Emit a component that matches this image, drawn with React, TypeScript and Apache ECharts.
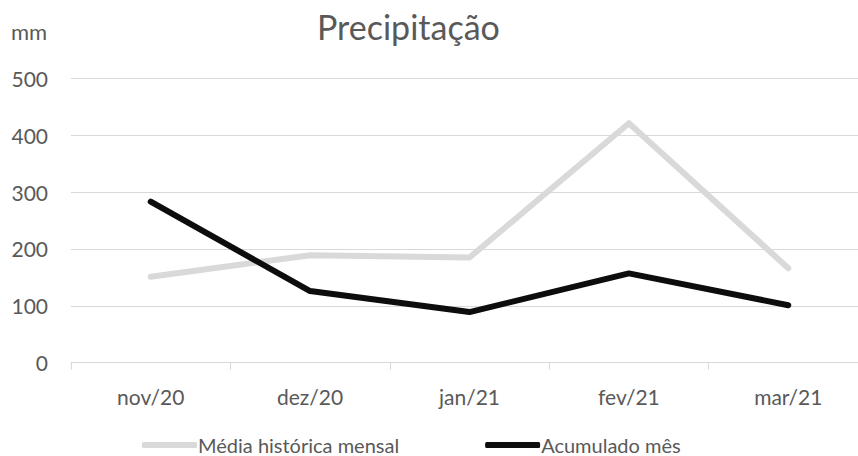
import React, { useEffect, useRef } from "react";
import * as echarts from "echarts";

const categories = ["nov/20", "dez/20", "jan/21", "fev/21", "mar/21"];
const mediaHistorica = [151, 189, 185, 421, 166];
const acumuladoMes = [283, 126, 89, 157, 101];
const seriesNames = ["Média histórica mensal", "Acumulado mês"];
const FONT = "Lato, 'Open Sans', sans-serif";
const TEXT = "#595959";

export default function App() {
  const ref = useRef<HTMLDivElement>(null);
  useEffect(() => {
    if (!ref.current) return;
    const chart = echarts.init(ref.current, undefined, { renderer: "svg" });
    chart.setOption({
      animation: false,
      backgroundColor: "#ffffff",
      textStyle: { fontFamily: FONT },
      title: {
        text: "Precipitação",
        left: 317,
        top: 9,
        padding: 0,
        textStyle: { fontFamily: FONT, fontSize: 34, fontWeight: "normal", color: TEXT },
      },
      graphic: [
        {
          type: "text",
          left: 11,
          top: 20,
          style: { text: "mm", fontFamily: FONT, fontSize: 22, fill: TEXT },
        },
      ],
      legend: {
        left: 142,
        top: 435,
        padding: 0,
        itemGap: 86,
        itemWidth: 55,
        itemHeight: 6,
        icon: "roundRect",
        textStyle: { fontFamily: FONT, fontSize: 20, lineHeight: 20, color: TEXT, padding: [0, 0, 0, -4] },
        data: seriesNames,
      },
      grid: { left: 71, right: 12, top: 78.3, bottom: 93.3, containLabel: false },
      xAxis: {
        type: "category",
        data: categories,
        boundaryGap: true,
        axisLine: { lineStyle: { color: "#d9d9d9", width: 1 } },
        axisTick: { show: true, length: 7, lineStyle: { color: "#d9d9d9" } },
        axisLabel: { color: TEXT, fontFamily: FONT, fontSize: 21, margin: 23 },
      },
      yAxis: {
        type: "value",
        min: 0,
        max: 500,
        interval: 100,
        axisLine: { show: false },
        axisTick: { show: false },
        splitLine: { lineStyle: { color: "#d9d9d9", width: 1 } },
        axisLabel: { color: TEXT, fontFamily: FONT, fontSize: 21, margin: 23 },
      },
      series: [
        {
          name: seriesNames[0],
          type: "line",
          data: mediaHistorica,
          showSymbol: false,
          symbol: "none",
          color: "#d9d9d9",
          lineStyle: { color: "#d9d9d9", width: 6, cap: "round", join: "round" },
        },
        {
          name: seriesNames[1],
          type: "line",
          data: acumuladoMes,
          showSymbol: false,
          symbol: "none",
          color: "#0d0d0d",
          lineStyle: { color: "#0d0d0d", width: 6, cap: "round", join: "round" },
        },
      ],
    });
    return () => chart.dispose();
  }, []);
  return (
    <div style={{ width: 858, height: 456, position: "absolute", left: 0, top: 0, overflow: "hidden", background: "#fff" }}>
      <div ref={ref} style={{ width: 880, height: 456 }} />
    </div>
  );
}
